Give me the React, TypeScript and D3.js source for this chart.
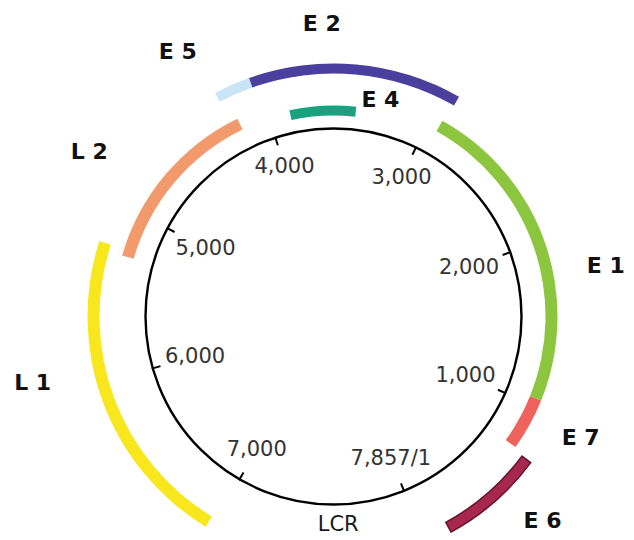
import { useEffect, useRef } from "react";
import * as d3 from "d3";

// genome map, positions in bp
const GENOME_LENGTH = 7857;

const tickValues = [1000, 2000, 3000, 4000, 5000, 6000, 7000, 7857];
const tickLabels = ["1,000", "2,000", "3,000", "4,000", "5,000", "6,000", "7,000", "7,857/1"];

const genes = ["E6", "E7", "E1", "E2", "E4", "E5", "L2", "L1"];
const geneStart = [150, 735, 1045, 2915, 3450, 4035, 4180, 5230];
const geneEnd = [715, 1045, 2930, 4035, 3865, 4225, 5270, 6970];
const geneLabels = ["E 6", "E 7", "E 1", "E 2", "E 4", "E 5", "L 2", "L 1"];

const regionLabel = "LCR";

const W = 634;
const H = 540;
const CX = 333.5;
const CY = 316.5;
const R = 188;

// track radius / thickness / colours, and where each name sits (deg, radius)
const trackStyle: Record<string, { r: number; w: number; fill: string; stroke?: string; la: number; lr: number }> = {
  E6: { r: 240, w: 11, fill: "#a8274e", stroke: "#641229", la: 134.3, lr: 292 },
  E7: { r: 218, w: 12, fill: "#f0625c", la: 116, lr: 275 },
  E1: { r: 218, w: 12, fill: "#8cc63e", la: 79.4, lr: 277 },
  E2: { r: 248, w: 10, fill: "#4a3f9c", la: -2.3, lr: 293 },
  E4: { r: 206, w: 10, fill: "#19a27f", la: 12.2, lr: 222 },
  E5: { r: 248, w: 10, fill: "#c7e5f6", la: -30.5, lr: 307 },
  L2: { r: 214, w: 12, fill: "#f29a6b", la: -56, lr: 294.5 },
  L1: { r: 240, w: 12, fill: "#f8e71c", la: -102.4, lr: 308 },
};

export default function App() {
  const svgRef = useRef<SVGSVGElement | null>(null);

  useEffect(() => {
    if (!svgRef.current) return;
    const svg = d3.select(svgRef.current);
    svg.selectAll("*").remove();

    // the drawing is not to scale: the LCR stretch is drawn wider
    const angleDeg = d3.scaleLinear().domain([0, 7000, GENOME_LENGTH]).range([158, -150, -202]);
    const angle = (bp: number) => (angleDeg(bp) * Math.PI) / 180;

    const g = svg.append("g").attr("transform", `translate(${CX},${CY})`);

    const arc = d3.arc<{ s: number; e: number; r: number; w: number }>()
      .innerRadius((d) => d.r - d.w / 2)
      .outerRadius((d) => d.r + d.w / 2)
      .startAngle((d) => angle(d.e))
      .endAngle((d) => angle(d.s));

    genes.forEach((name, i) => {
      const st = trackStyle[name];
      g.append("path")
        .attr("d", arc({ s: geneStart[i], e: geneEnd[i], r: st.r, w: st.w }))
        .attr("fill", st.fill)
        .attr("stroke", st.stroke ?? "none")
        .attr("stroke-width", st.stroke ? 1.5 : 0);

      const a = (st.la * Math.PI) / 180;
      g.append("text")
        .attr("x", Math.sin(a) * st.lr)
        .attr("y", -Math.cos(a) * st.lr)
        .attr("text-anchor", "middle")
        .attr("dominant-baseline", "central")
        .attr("font-family", "'DejaVu Sans', sans-serif")
        .attr("font-weight", "bold")
        .attr("font-size", 22)
        .attr("fill", "#111")
        .text(geneLabels[i]);
    });

    g.append("circle")
      .attr("r", R)
      .attr("fill", "none")
      .attr("stroke", "#000")
      .attr("stroke-width", 2.4);

    tickValues.forEach((v, i) => {
      const a = angle(v);
      const ux = Math.sin(a);
      const uy = -Math.cos(a);
      g.append("line")
        .attr("x1", ux * (R - 8))
        .attr("y1", uy * (R - 8))
        .attr("x2", ux * (R + 1))
        .attr("y2", uy * (R + 1))
        .attr("stroke", "#000")
        .attr("stroke-width", 2);

      const t = g.append("text")
        .attr("text-anchor", "middle")
        .attr("dominant-baseline", "central")
        .attr("font-family", "'DejaVu Sans', sans-serif")
        .attr("font-size", 21)
        .attr("fill", "#333")
        .text(tickLabels[i]);
      const bw = (t.node() as SVGTextElement).getBBox().width;
      const ext = Math.abs(ux) * (bw / 2) + Math.abs(uy) * 7.5;
      const rr = R - 13 - ext;
      t.attr("x", ux * rr).attr("y", uy * rr);
    });

    const la = (178.7 * Math.PI) / 180;
    g.append("text")
      .attr("x", Math.sin(la) * 208)
      .attr("y", -Math.cos(la) * 208)
      .attr("text-anchor", "middle")
      .attr("dominant-baseline", "central")
      .attr("font-family", "'DejaVu Sans', sans-serif")
      .attr("font-size", 21)
      .attr("fill", "#1a1a1a")
      .text(regionLabel);
  }, []);

  return (
    <svg
      ref={svgRef}
      width={W}
      height={H}
      style={{ position: "absolute", left: 0, top: 0, background: "#fff" }}
    />
  );
}
